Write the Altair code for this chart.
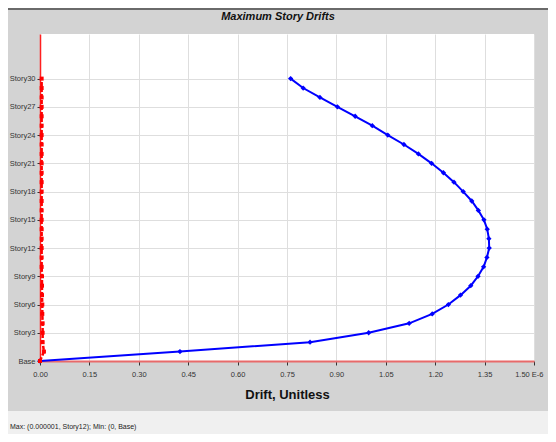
import altair as alt
import pandas as pd

# ---- data ----
stories = list(range(31))
drift_dir_x = [0.000, 0.425, 0.820, 0.998, 1.121, 1.191, 1.240, 1.277, 1.308, 1.330,
               1.347, 1.357, 1.364, 1.363, 1.358, 1.348, 1.331, 1.311, 1.285, 1.257,
               1.225, 1.189, 1.149, 1.105, 1.056, 1.009, 0.957, 0.903, 0.850, 0.799,
               0.761]
drift_dir_y = [0.000, 0.012, 0.008, 0.008, 0.008, 0.007, 0.007, 0.006, 0.006, 0.006,
               0.005, 0.005, 0.005, 0.005, 0.005, 0.005, 0.005, 0.005, 0.005, 0.005,
               0.005, 0.005, 0.005, 0.005, 0.005, 0.005, 0.005, 0.005, 0.005, 0.005,
               0.005]
x_ticks = [0.0, 0.15, 0.30, 0.45, 0.60, 0.75, 0.90, 1.05, 1.20, 1.35, 1.50]
y_ticks = [0, 3, 6, 9, 12, 15, 18, 21, 24, 27, 30]
title_text = "Maximum Story Drifts"
x_title = "Drift, Unitless"
footer_text = "Max: (0.000001, Story12);  Min: (0, Base)"

df = pd.DataFrame({
    "story": stories + stories,
    "drift": drift_dir_x + drift_dir_y,
    "dir": ["X"] * len(stories) + ["Y"] * len(stories),
})
one = pd.DataFrame({"k": [0]})

FONT = "Liberation Sans"

xenc = alt.X(
    "drift:Q",
    scale=alt.Scale(domain=[0, 1.5], nice=False, zero=False),
    title=x_title,
    axis=alt.Axis(
        values=x_ticks,
        labelExpr="datum.value == 1.5 ? '1.50 E-6' : format(datum.value, '.2f')",
        labelAlign={"condition": {"test": "datum.value == 1.5", "value": "right"}, "value": "center"},
        labelOffset={"condition": {"test": "datum.value == 1.5", "value": 9}, "value": 0},
        labelFont=FONT, labelFontSize=7.5, labelColor="#333333", labelPadding=5,
        labelOverlap=False, labelFlush=False,
        tickSize=4, tickColor="#333333", tickWidth=1,
        domainColor="#e86a6a", domainWidth=2,
        gridColor="#dedede", gridWidth=1,
        titleFont=FONT, titleFontSize=13, titleFontWeight="bold", titleColor="#111111",
        titlePadding=11,
    ),
)
yenc = alt.Y(
    "story:Q",
    scale=alt.Scale(domain=[0, 34.74], nice=False, zero=False),
    title=None,
    axis=alt.Axis(
        values=y_ticks,
        labelExpr="datum.value == 0 ? 'Base' : 'Story' + datum.value",
        labelFont=FONT, labelFontSize=7.5, labelColor="#333333", labelPadding=2,
        labelOverlap=False, labelFlush=False,
        tickSize=3, tickColor="#333333", tickWidth=1,
        domainColor="#ff2020", domainWidth=1.5,
        gridColor="#dedede", gridWidth=1,
    ),
)

base = alt.Chart(df).encode(x=xenc, y=yenc, order=alt.Order("story:Q"))
bx = base.transform_filter(alt.datum.dir == "X")
by = base.transform_filter(alt.datum.dir == "Y")

blue_line = bx.mark_line(color="#0000ff", strokeWidth=2)
blue_pts = bx.mark_point(shape="diamond", filled=True, color="#0000ff", size=28, opacity=1)
red_line = by.mark_line(color="#ff0000", strokeWidth=2.5, strokeDash=[4, 2])
red_pts = by.mark_square(color="#ff0000", size=16, opacity=1)

footer_band = alt.Chart(one).mark_rect(color="#f0f0f0").encode(
    x=alt.value(-32), x2=alt.value(508), y=alt.value(377), y2=alt.value(400))
top_border = alt.Chart(one).mark_rule(color="#6a6a6a", strokeWidth=2).encode(
    x=alt.value(-32), x2=alt.value(508), y=alt.value(-25))
title = alt.Chart(one).mark_text(text=title_text, font=FONT, fontSize=11, fontWeight="bold",
                                 fontStyle="italic", align="center", baseline="middle",
                                 color="#111111").encode(
    x=alt.value(238), y=alt.value(-17))
footer = alt.Chart(one).mark_text(text=footer_text, font=FONT, fontSize=7, align="left",
                                  baseline="middle", color="#222222").encode(
    x=alt.value(-30), y=alt.value(393))

chart = alt.layer(footer_band, top_border, blue_line, blue_pts, red_line, red_pts,
                  title, footer).properties(
    width=494,
    height=327,
    background="#d3d3d3",
    padding={"left": 32, "top": 26, "right": 14, "bottom": 73},
    autosize=alt.AutoSizeParams(type="none"),
).configure_view(fill="#ffffff", strokeWidth=0)

chart.save("out.html", embed_options={"renderer": "svg", "actions": False})
